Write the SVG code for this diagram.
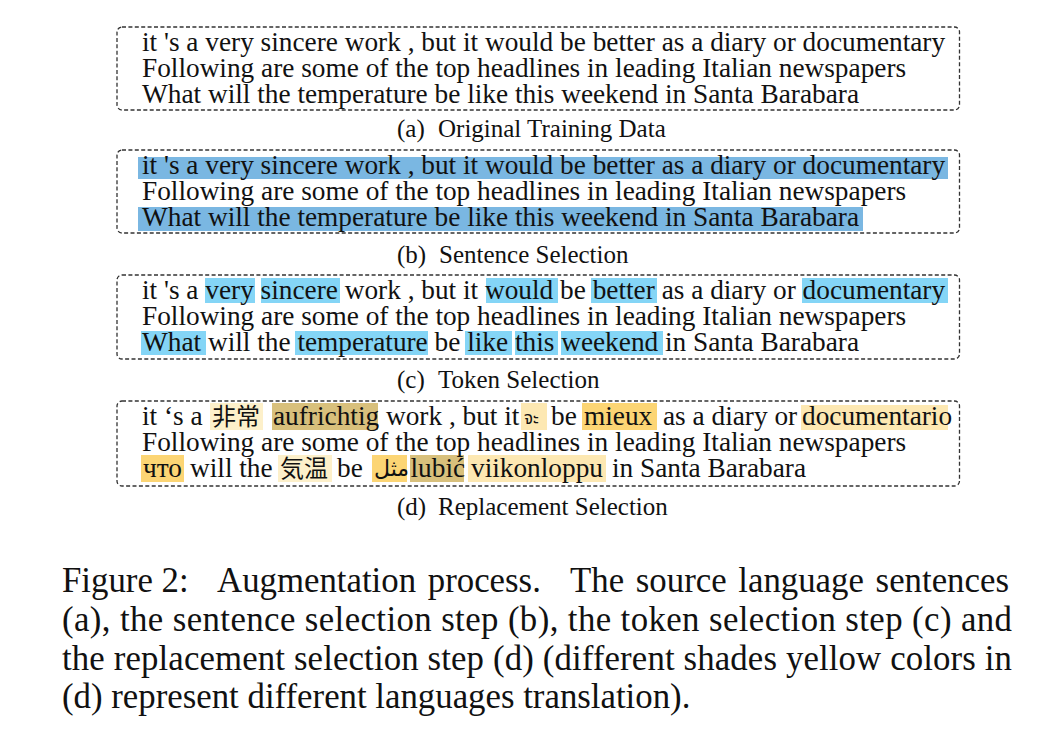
<svg xmlns="http://www.w3.org/2000/svg" width="1056" height="738" viewBox="0 0 1056 738">
<style>
.box{fill:none;stroke:#333;stroke-width:1.3;stroke-dasharray:4 2.4}
.t{font-family:"Liberation Serif","Times New Roman",serif;font-size:27.3px;fill:#111}
.cap{font-family:"Liberation Serif","Times New Roman",serif;font-size:25px;fill:#111}
.fig{font-family:"Liberation Serif","Times New Roman",serif;font-size:34.8px;fill:#111}
.cjk{font-family:"Noto Sans CJK JP","Noto Sans CJK SC",sans-serif;font-size:24px;fill:#111}
.th{font-family:"Noto Sans Thai","Noto Sans","DejaVu Sans",sans-serif;font-size:17px;fill:#111}
.ar{font-family:"DejaVu Sans","Noto Sans",sans-serif;font-size:22px;fill:#111}
.hb{fill:#7ab7e2}
.hc{fill:#84d5f6}
.y1{fill:#fdf0ca}
.y2{fill:#d8c07c}
.y3{fill:#fcd574}
.y4{fill:#fde8b2}
</style>
<rect width="1056" height="738" fill="#fff"/>

<g id="panel-a">
<rect class="box" x="117" y="27" width="842.5" height="83" rx="5"/>
<text class="t" x="142" y="51">it 's a very sincere work , but it would be better as a diary or documentary</text>
<text class="t" x="142" y="77">Following are some of the top headlines in leading Italian newspapers</text>
<text class="t" x="142" y="102.5">What will the temperature be like this weekend in Santa Barabara</text>
<text class="cap" y="137"><tspan x="397">(a)</tspan><tspan x="438">Original Training Data</tspan></text>
</g>

<g id="panel-b">
<rect class="hb" x="138" y="157" width="810" height="22"/>
<rect class="hb" x="138" y="207" width="725" height="24"/>
<rect class="box" x="117" y="150" width="842.5" height="83" rx="5"/>
<text class="t" x="142" y="174">it 's a very sincere work , but it would be better as a diary or documentary</text>
<text class="t" x="142" y="200">Following are some of the top headlines in leading Italian newspapers</text>
<text class="t" x="142" y="225.5">What will the temperature be like this weekend in Santa Barabara</text>
<text class="cap" y="263"><tspan x="397">(b)</tspan><tspan x="439">Sentence Selection</tspan></text>
</g>

<g id="panel-c">
<rect class="hc" x="205" y="278" width="50" height="25"/>
<rect class="hc" x="261" y="278" width="79" height="25"/>
<rect class="hc" x="486" y="278" width="72" height="25"/>
<rect class="hc" x="591" y="278" width="66" height="25"/>
<rect class="hc" x="802" y="278" width="146" height="25"/>
<rect class="hc" x="141" y="331" width="65" height="24"/>
<rect class="hc" x="295" y="331" width="133" height="24"/>
<rect class="hc" x="465" y="331" width="47" height="24"/>
<rect class="hc" x="515" y="331" width="43" height="24"/>
<rect class="hc" x="561" y="331" width="102" height="24"/>
<rect class="box" x="117" y="275" width="842.5" height="84" rx="5"/>
<text class="t" x="142" y="299">it 's a very sincere work , but it would be better as a diary or documentary</text>
<text class="t" x="142" y="325">Following are some of the top headlines in leading Italian newspapers</text>
<text class="t" x="142" y="350.5">What will the temperature be like this weekend in Santa Barabara</text>
<text class="cap" y="388"><tspan x="397">(c)</tspan><tspan x="438">Token Selection</tspan></text>
</g>

<g id="panel-d">
<rect class="y1" x="210" y="403" width="53" height="27"/>
<rect class="y2" x="272" y="403" width="106" height="27"/>
<rect class="y4" x="521" y="403" width="26" height="27"/>
<rect class="y3" x="582" y="403" width="75" height="27"/>
<rect class="y4" x="801" y="405" width="147" height="25"/>
<rect class="y3" x="141" y="455" width="43" height="27"/>
<rect class="y1" x="278" y="455" width="54" height="27"/>
<rect class="y3" x="372" y="455" width="35" height="27"/>
<rect class="y2" x="410" y="455" width="54" height="27"/>
<rect class="y4" x="468" y="455" width="138" height="27"/>
<rect class="box" x="117" y="401" width="842.5" height="85" rx="5"/>
<text class="t" y="425"><tspan x="142">it ‘s a</tspan><tspan x="273">aufrichtig</tspan><tspan x="386">work , but it</tspan><tspan x="551">be</tspan><tspan x="584">mieux</tspan><tspan x="663">as a diary or</tspan><tspan x="802">documentario</tspan></text>
<text class="cjk" x="212" y="425">非常</text>
<text class="th" x="524" y="424">จะ</text>
<text class="t" x="142" y="451">Following are some of the top headlines in leading Italian newspapers</text>
<text class="t" y="477"><tspan x="143">что</tspan><tspan x="190">will the</tspan><tspan x="337">be</tspan><tspan x="410.5">lubić</tspan><tspan x="471">viikonloppu</tspan><tspan x="612">in Santa Barabara</tspan></text>
<text class="cjk" x="280" y="477">気温</text>
<text class="ar" x="374" y="476">مثل</text>
<text class="cap" y="515"><tspan x="397">(d)</tspan><tspan x="438">Replacement Selection</tspan></text>
</g>

<g id="figure-caption">
<text class="fig" y="592"><tspan x="62">Figure 2:</tspan><tspan x="217" word-spacing="3">Augmentation process.</tspan><tspan x="570" word-spacing="3">The source language sentences</tspan></text>
<text class="fig" x="62" y="631" textLength="950" lengthAdjust="spacing">(a), the sentence selection step (b), the token selection step (c) and</text>
<text class="fig" x="62" y="670" textLength="950" lengthAdjust="spacing">the replacement selection step (d) (different shades yellow colors in</text>
<text class="fig" x="62" y="708">(d) represent different languages translation).</text>
</g>
</svg>
